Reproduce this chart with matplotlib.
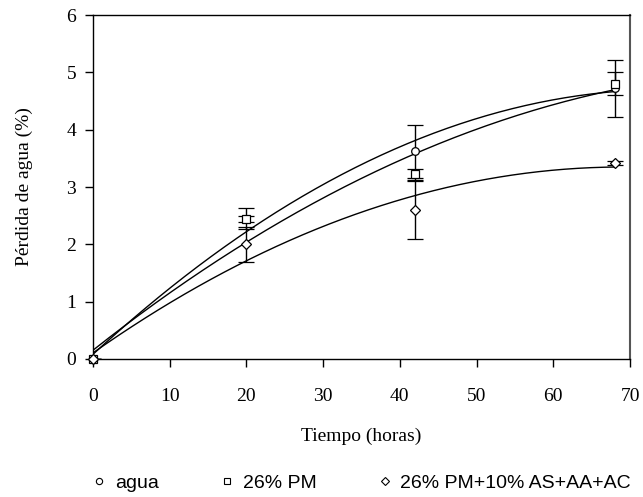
import numpy as np
import matplotlib
matplotlib.use("Agg")
import matplotlib.pyplot as plt
from matplotlib.lines import Line2D

# datos
tiempo = [0, 20, 42, 68]

agua = [0.0, 2.44, 3.62, 4.72]
agua_err = [0.0, 0.05, 0.47, 0.50]

pm = [0.0, 2.45, 3.22, 4.80]
pm_err = [0.0, 0.19, 0.10, 0.20]

pm_as = [0.0, 2.00, 2.60, 3.42]
pm_as_err = [0.0, 0.30, 0.50, 0.03]

etiquetas = ["agua", "26% PM", "26% PM+10% AS+AA+AC"]
marcadores = ["o", "s", "D"]

serif = ["Liberation Serif", "DejaVu Serif"]
sans = ["Liberation Sans", "DejaVu Sans"]

fig = plt.figure(figsize=(6.43, 4.97), dpi=100)
ax = fig.add_axes([0.1446, 0.2777, 0.8352, 0.692])

xs = np.linspace(0, 68, 200)
series = [(agua, agua_err), (pm, pm_err), (pm_as, pm_as_err)]
for (y, e), m in zip(series, marcadores):
    # linea de tendencia polinomica (orden 2), como en la hoja de calculo
    c = np.polyfit(tiempo, y, 2)
    ax.plot(xs, np.polyval(c, xs), color="black", lw=1.0, zorder=2)
    ms = 5.5 if m != "D" else 5
    lines = ax.errorbar(tiempo, y, yerr=e, fmt=m, mfc="white", mec="black",
                        ms=ms, mew=0.9, ecolor="black", elinewidth=1.0,
                        capsize=6, capthick=1.0, zorder=3)
    lines[0].set_clip_on(False)

ax.set_xlim(0, 70)
ax.set_ylim(0, 6)
ax.set_xticks(range(0, 71, 10))
ax.set_yticks(range(0, 7))
ax.tick_params(direction="out", length=6, width=1, colors="black",
               labelsize=14, pad=6)
ax.tick_params(axis="x", pad=15)
for lab in ax.get_xticklabels() + ax.get_yticklabels():
    lab.set_fontfamily(serif)
for s in ax.spines.values():
    s.set_linewidth(1.0)
    s.set_color("black")
ax.spines["right"].set_color("#555555")
ax.spines["right"].set_linewidth(1.5)

ax.set_xlabel("Tiempo (horas)", fontsize=14, family=serif, labelpad=16)
ax.set_ylabel("Pérdida de agua (%)", fontsize=14, family=serif, labelpad=24)

handles = [Line2D([], [], ls="none", marker=m, mfc="white", mec="black",
                  ms=(4.5 if m != "D" else 4), mew=0.8) for m in marcadores]
fig.legend(handles, etiquetas, loc="center left", bbox_to_anchor=(0.1145, 0.028),
           ncol=3, frameon=False, prop={"family": sans, "size": 14},
           handletextpad=0.42, handlelength=0.8, columnspacing=3.1)

fig.savefig("out.png", dpi=100)
